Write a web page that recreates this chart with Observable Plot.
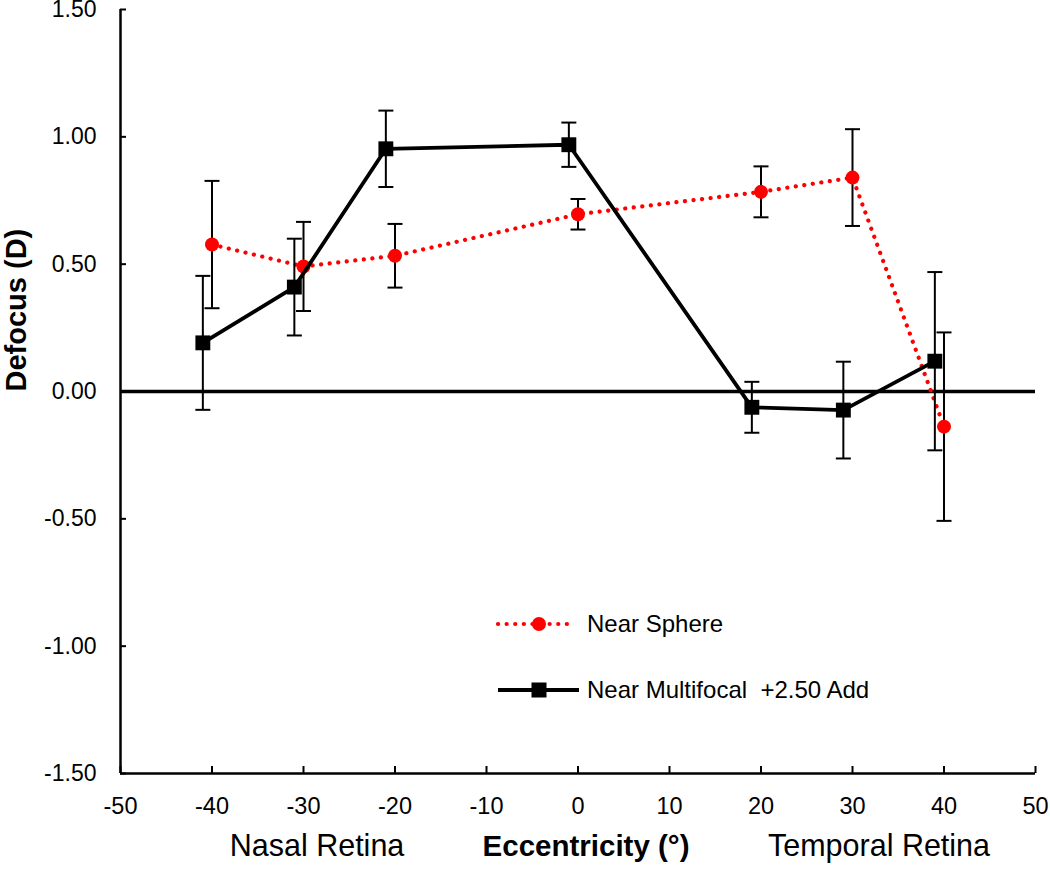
<!DOCTYPE html>
<html>
<head>
<meta charset="utf-8">
<script src="https://cdn.jsdelivr.net/npm/d3@7"></script>
<script src="https://cdn.jsdelivr.net/npm/@observablehq/plot@0.6"></script>
<style>
  html, body { margin: 0; padding: 0; background: #fff; }
  #wrap { position: relative; width: 1050px; height: 872px; font-family: "Liberation Sans", Arial, sans-serif; }
  #legend { position: absolute; left: 480px; top: 590px; }
</style>
</head>
<body>
<div id="wrap"></div>
<script>
// ---- data ----
const sphereLabel = "Near Sphere";
const multiLabel = "Near Multifocal  +2.50 Add";
const sphereX = [-40, -30, -20, 0, 20, 30, 40];
const sphereY = [0.577, 0.491, 0.533, 0.696, 0.784, 0.840, -0.138];
const sphereErr = [0.25, 0.175, 0.125, 0.06, 0.10, 0.19, 0.37];
const multiX = [-41, -31, -21, -1, 19, 29, 39];
const multiY = [0.191, 0.41, 0.953, 0.969, -0.062, -0.073, 0.119];
const multiErr = [0.263, 0.19, 0.15, 0.087, 0.10, 0.19, 0.35];
const xTicks = [-50, -40, -30, -20, -10, 0, 10, 20, 30, 40, 50];
const yTicks = [-1.5, -1.0, -0.5, 0, 0.5, 1.0, 1.5];
const yLabel = "Defocus (D)";
const xLabel = "Eccentricity (°)";
const leftRegion = "Nasal Retina";
const rightRegion = "Temporal Retina";

const sphere = sphereX.map((x, i) => ({x, y: sphereY[i], lo: sphereY[i] - sphereErr[i], hi: sphereY[i] + sphereErr[i]}));
const multi = multiX.map((x, i) => ({x, y: multiY[i], lo: multiY[i] - multiErr[i], hi: multiY[i] + multiErr[i]}));

const capSymbol = {draw(ctx) { ctx.moveTo(-7.5, 0); ctx.lineTo(7.5, 0); }};
const font = "Liberation Sans, Arial, sans-serif";

const chart = Plot.plot({
  width: 1050,
  height: 872,
  marginLeft: 120,
  marginRight: 15,
  marginTop: 9,
  marginBottom: 99,
  style: {fontFamily: font, fontSize: "23px", color: "#000", background: "#fff", overflow: "visible"},
  x: {domain: [xTicks[0], xTicks[xTicks.length - 1]]},
  y: {domain: [yTicks[0], yTicks[yTicks.length - 1]]},
  marks: [
    Plot.ruleY([0], {stroke: "#000", strokeWidth: 3.4}),
    Plot.ruleX([xTicks[0]], {stroke: "#000", strokeWidth: 2.5}),
    Plot.ruleY([yTicks[0]], {stroke: "#000", strokeWidth: 2.5}),
    Plot.axisX(xTicks, {anchor: "bottom", tickSize: -7, tickPadding: 31, strokeWidth: 2, tickFormat: d => String(d), label: null, fontSize: 23.5}),
    Plot.axisY(yTicks, {anchor: "left", tickSize: -6, tickPadding: 30, strokeWidth: 2, tickFormat: d => d.toFixed(2), label: null, fontSize: 23}),
    // Near Sphere
    Plot.line(sphere, {x: "x", y: "y", stroke: "#ff0000", strokeWidth: 4.2, strokeDasharray: "0.1 8.5", strokeLinecap: "round"}),
    Plot.ruleX(sphere, {x: "x", y1: "lo", y2: "hi", stroke: "#000", strokeWidth: 2}),
    Plot.dot(sphere, {x: "x", y: "lo", symbol: capSymbol, stroke: "#000", strokeWidth: 2}),
    Plot.dot(sphere, {x: "x", y: "hi", symbol: capSymbol, stroke: "#000", strokeWidth: 2}),
    Plot.dot(sphere, {x: "x", y: "y", r: 7, fill: "#ff0000", stroke: null, symbol: "circle"}),
    // Near Multifocal
    Plot.line(multi, {x: "x", y: "y", stroke: "#000", strokeWidth: 3.8}),
    Plot.ruleX(multi, {x: "x", y1: "lo", y2: "hi", stroke: "#000", strokeWidth: 2}),
    Plot.dot(multi, {x: "x", y: "lo", symbol: capSymbol, stroke: "#000", strokeWidth: 2}),
    Plot.dot(multi, {x: "x", y: "hi", symbol: capSymbol, stroke: "#000", strokeWidth: 2}),
    Plot.dot(multi, {x: "x", y: "y", r: 8.4, fill: "#000", stroke: null, symbol: "square"}),
    // axis titles
    Plot.text([yLabel], {text: d => d, frameAnchor: "left", rotate: -90, dx: -104, fontSize: 29, fontWeight: "bold", fill: "#000"}),
    Plot.text([xLabel], {text: d => d, frameAnchor: "bottom", dx: 8, dy: 82, fontSize: 29.5, fontWeight: "bold", fill: "#000"}),
    Plot.text([leftRegion], {text: d => d, frameAnchor: "bottom", dx: -261, dy: 82, fontSize: 30.5, fill: "#000"}),
    Plot.text([rightRegion], {text: d => d, frameAnchor: "bottom", dx: 301, dy: 82, fontSize: 30.5, fill: "#000"})
  ]
});

const wrap = document.getElementById("wrap");
wrap.appendChild(chart);

// ---- legend (inside the plot area) ----
const leg = d3.select(wrap).append("svg").attr("id", "legend").attr("width", 440).attr("height", 120)
  .style("font-family", font);
const rows = [
  {label: sphereLabel, color: "#ff0000", dash: "0.1 8.5", width: 4.2, x2: 92, y: 34, shape: "circle"},
  {label: multiLabel, color: "#000", dash: null, width: 3.8, x2: 99, y: 100, shape: "square"}
];
rows.forEach(r => {
  leg.append("line").attr("x1", 18).attr("x2", r.x2).attr("y1", r.y).attr("y2", r.y)
    .attr("stroke", r.color).attr("stroke-width", r.width)
    .attr("stroke-dasharray", r.dash).attr("stroke-linecap", r.dash ? "round" : "butt");
  if (r.shape === "circle") {
    leg.append("circle").attr("cx", 59).attr("cy", r.y).attr("r", 7).attr("fill", r.color);
  } else {
    leg.append("rect").attr("x", 59 - 7.5).attr("y", r.y - 7.5).attr("width", 15).attr("height", 15).attr("fill", r.color);
  }
  leg.append("text").attr("x", 107).attr("y", r.y + 8).attr("font-size", 24).attr("fill", "#000")
    .style("white-space", "pre").attr("xml:space", "preserve").text(r.label);
});
</script>
</body>
</html>
